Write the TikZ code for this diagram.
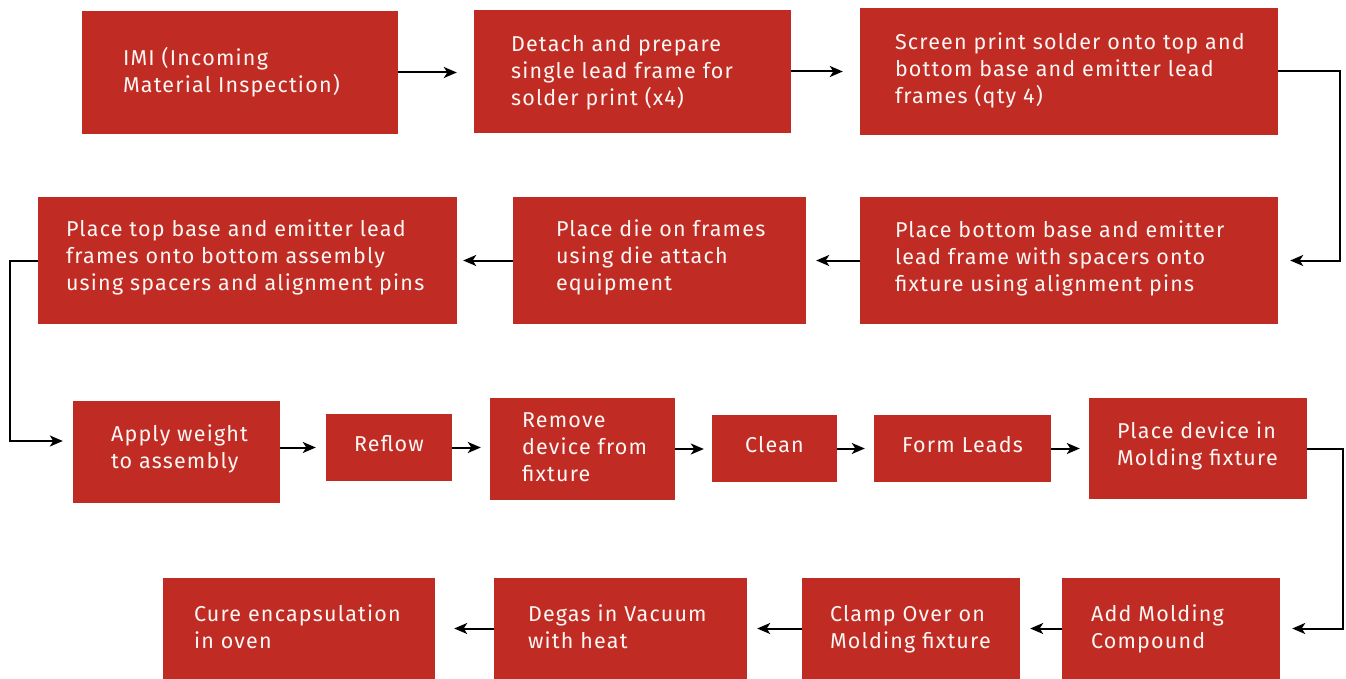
\documentclass[tikz,border=0pt]{standalone}
\usepackage{fontspec}
\setmainfont{Fira Sans}[LetterSpace=5.6]
\usetikzlibrary{arrows.meta}
\definecolor{boxred}{RGB}{192,44,36}
\definecolor{boxtext}{RGB}{252,246,244}
\newcommand{\boxtext}[3]{\raisebox{#3pt}[\height][\depth]{\makebox[#1pt][l]{\begin{tabular}{@{}l@{}}#2\end{tabular}}}}
\newcommand{\stepnode}[8]{\node[stepbox, minimum width={#4-#2}, minimum height={#5-#3}] (#1) at ({(#2+#4)/2},{(#3+#5)/2}) {\boxtext{#6}{#7}{#8}};}
\newcommand{\raised}[2]{\raisebox{#1pt}[\height][\depth]{#2}}
\tikzset{
  stepbox/.style={rectangle, fill=boxred, draw=none, inner sep=0pt, text=boxtext,
    font=\fontsize{21.5}{27}\selectfont},
  arr/.style={line width=2pt, -{Stealth[length=13pt,width=11pt,inset=3.5pt]}}
}
\begin{document}
\begin{tikzpicture}[x=1pt,y=-1pt]
\useasboundingbox (0,0) rectangle (1346,679);
% row 1
\stepnode{imi}{82}{11}{398}{134}{234}{IMI (Incoming\\Material Inspection)}{-1}
\stepnode{detach}{474}{10}{791}{133}{243}{Detach and prepare\\single lead frame for\\solder print (x4)}{-2}
\stepnode{screen}{860}{8}{1278}{135}{348}{Screen print solder onto top and\\bottom base and emitter lead\\frames (qty 4)}{0}
% row 2
\stepnode{pbottom}{860}{197}{1278}{324}{348}{Place bottom base and emitter\\lead frame with spacers onto\\fixture using alignment pins}{1}
\stepnode{pdie}{513}{197}{806}{324}{207}{Place die on frames\\using die attach\\equipment}{2}
\stepnode{ptop}{38}{197}{457}{324}{363}{Place top base and emitter lead\\frames onto bottom assembly\\using spacers and alignment pins}{2}
% row 3
\stepnode{apply}{73}{401}{280}{503}{131}{Apply weight\\to assembly}{2}
\node[stepbox, minimum width=126, minimum height=67] (reflow) at (389,447.5) {\raised{4}{Reflow}};
\stepnode{remove}{490}{398}{675}{500}{121}{Remove\\device from\\fixture}{0}
\node[stepbox, minimum width=125, minimum height=67] (clean) at (774.5,448.5) {\raised{4}{Clean}};
\node[stepbox, minimum width=177, minimum height=67] (form) at (962.5,448.5) {\raised{4}{Form Leads}};
\stepnode{pdevice}{1089}{398}{1307}{499}{162}{Place device in\\Molding fixture}{2}
% row 4
\stepnode{add}{1062}{578}{1280}{679}{160}{Add Molding\\Compound}{-1}
\stepnode{clamp}{802}{578}{1020}{679}{162}{Clamp Over on\\Molding fixture}{-1}
\stepnode{degas}{494}{578}{747}{679}{185}{Degas in Vacuum\\with heat}{-1}
\stepnode{cure}{163}{578}{435}{679}{210}{Cure encapsulation\\in oven}{-1}
% connectors
\draw[arr, shorten >=17pt] (imi.east) -- (imi.east -| detach.west);
\draw[arr, shorten >=17pt] (detach.east) -- (detach.east -| screen.west);
\draw[arr, shorten >=12pt] (screen.east) -- ++(62,0) |- (pbottom.east);
\draw[arr, shorten >=10pt] (pbottom.west) -- (pbottom.west -| pdie.east);
\draw[arr, shorten >=6pt] (pdie.west) -- (pdie.west -| ptop.east);
\draw[arr, shorten >=10pt] (ptop.west) -- ++(-28,0) |- ([yshift=11pt]apply.west);
\draw[arr, shorten >=10pt] (apply.east |- reflow.west) -- (reflow.west);
\draw[arr, shorten >=9pt] (reflow.east) -- (reflow.east -| remove.west);
\draw[arr, shorten >=8pt] (remove.east) -- (remove.east -| clean.west);
\draw[arr, shorten >=9pt] (clean.east) -- (clean.east -| form.west);
\draw[arr, shorten >=9pt] (form.east) -- (form.east -| pdevice.west);
\draw[arr, shorten >=12pt] (pdevice.east) -- ++(36,0) |- (add.east);
\draw[arr, shorten >=10pt] (add.west) -- (add.west -| clamp.east);
\draw[arr, shorten >=10pt] (clamp.west) -- (clamp.west -| degas.east);
\draw[arr, shorten >=19pt] (degas.west) -- (degas.west -| cure.east);
\end{tikzpicture}
\end{document}
